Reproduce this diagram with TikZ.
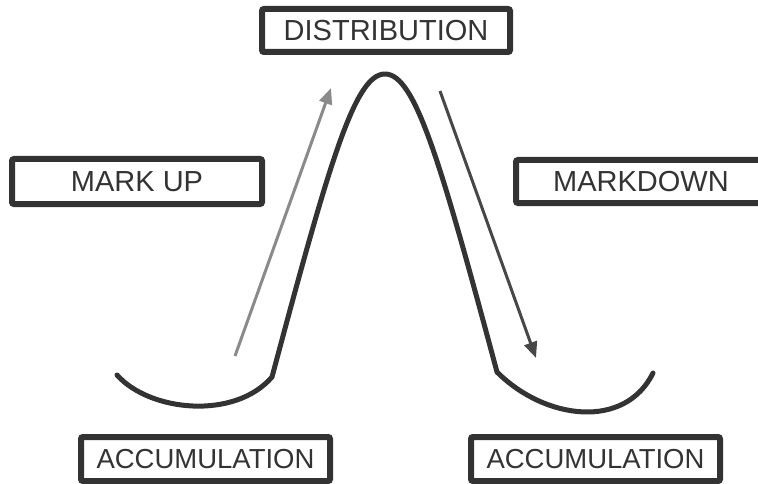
\documentclass[tikz,border=0pt]{standalone}
\usepackage{fontspec}
\setmainfont{Liberation Sans}
\usetikzlibrary{arrows.meta}
\definecolor{ink}{HTML}{333333}
\definecolor{lightink}{HTML}{8A8A8A}
\tikzset{
  label box/.style={draw=ink, line width=6pt, rounded corners=2pt, fill=white,
    text=ink, inner sep=0pt, minimum height=44pt},
  curve line/.style={draw=ink, line width=5pt, line cap=round, line join=round},
  trend arrow/.style={line width=3pt, -{Triangle[length=16pt,width=13pt]}},
}
\begin{document}
\begin{tikzpicture}[x=1pt,y=-1pt]
\useasboundingbox (0,0) rectangle (758,484);
% curve
\draw[curve line] (117,375) .. controls (150,412) and (235,420) .. (272,377)
  .. controls (330,160) and (355,74) .. (385,74)
  .. controls (415,74) and (440,160) .. (497,372)
  .. controls (545,420) and (625,430) .. (653,373);
% arrows
\coordinate (upS) at (235,356);
\coordinate (upE) at (331,88);
\coordinate (dnS) at (440,91);
\coordinate (dnE) at (536,358);
\draw[trend arrow, lightink] (upS) -- (upE);
\draw[trend arrow, ink!90] (dnS) -- (dnE);
% labels
\node[label box, minimum width=248pt, minimum height=43pt, font=\fontsize{29}{30}\selectfont] (dist) at (386,30.5) {DISTRIBUTION};
\node[label box, minimum width=250pt, minimum height=45pt, font=\fontsize{29}{30}\selectfont] (mup) at (137,181.5) {MARK UP};
\node[label box, minimum width=250pt, minimum height=43pt, font=\fontsize{29}{30}\selectfont] (mdown) at (641,181.5) {MARKDOWN};
\node[label box, minimum width=249pt, font=\fontsize{27.5}{30}\selectfont] (accL) at (205.5,459) {ACCUMULATION};
\node[label box, minimum width=249pt, font=\fontsize{27.5}{30}\selectfont] (accR) at (595.5,459) {ACCUMULATION};
\end{tikzpicture}
\end{document}
